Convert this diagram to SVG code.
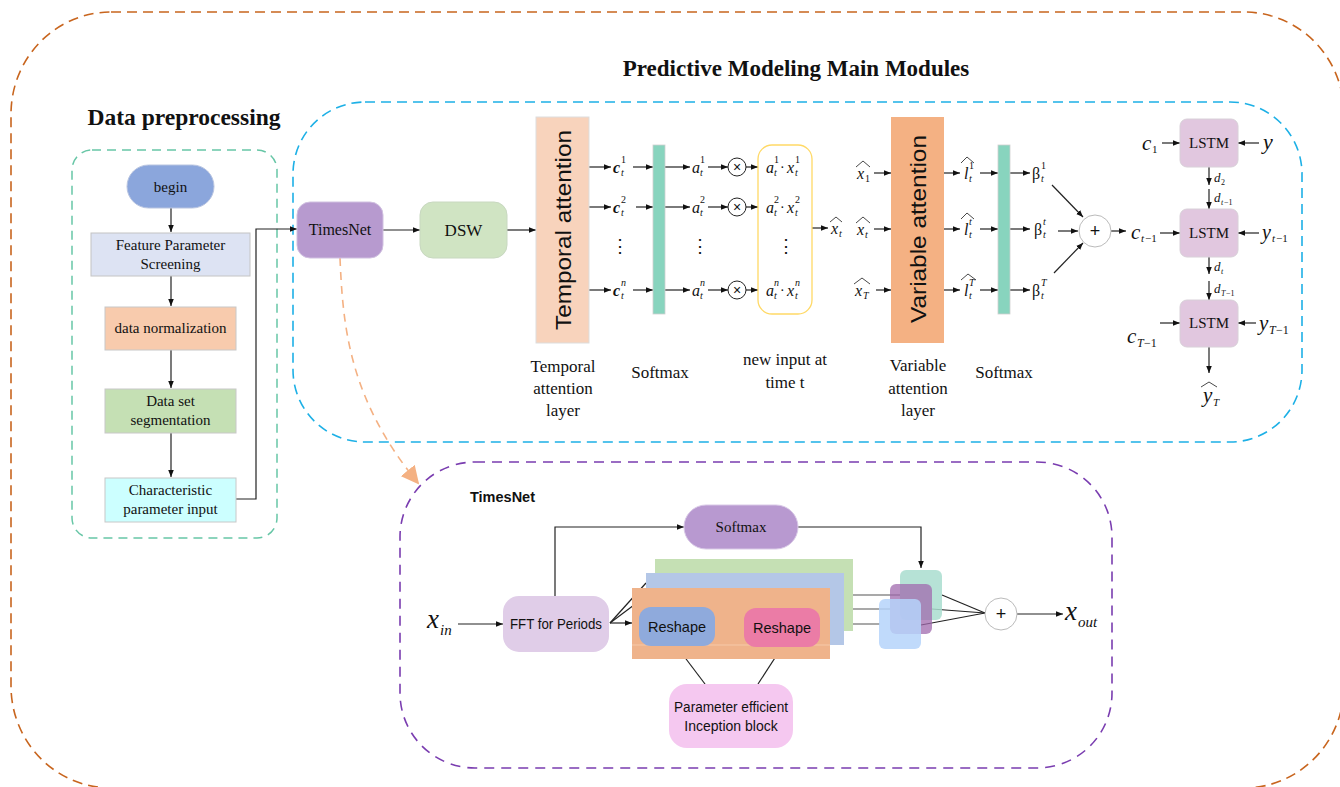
<svg xmlns="http://www.w3.org/2000/svg" width="1340" height="787" viewBox="0 0 1340 787">
<defs>
<marker id="arr" viewBox="0 0 10 10" refX="10" refY="5" markerWidth="7" markerHeight="7" markerUnits="userSpaceOnUse" orient="auto"><path d="M0,1 L10,5 L0,9 z" fill="#111"/></marker>
<marker id="parr" viewBox="0 0 10 10" refX="9" refY="5" markerWidth="18" markerHeight="18" markerUnits="userSpaceOnUse" orient="auto"><path d="M0,0 L10,5 L0,10 z" fill="#F4B183"/></marker>
<style>
.ln{stroke:#222;stroke-width:1.2;fill:none}
.ar{stroke:#222;stroke-width:1.2;fill:none;marker-end:url(#arr)}
.sf{font-family:"Liberation Serif","Times New Roman",serif;fill:#111}
.ss{font-family:"Liberation Sans",Arial,sans-serif;fill:#111}
.m{font-family:"Liberation Serif","Times New Roman",serif;font-style:italic;fill:#111}
.sm{font-family:"Liberation Serif","Times New Roman",serif;font-size:10px;fill:#111}
.hat{stroke:#333;stroke-width:0.9;fill:none}
.lbl{font-family:"Liberation Serif","Times New Roman",serif;font-size:17px;fill:#111;text-anchor:middle}
</style>
</defs>
<rect width="1340" height="787" fill="#fff"/>

<!-- frames -->
<g id="frames" fill="none">
<rect id="outer-frame" x="11" y="12" width="1333" height="776" rx="100" ry="102" stroke="#C8651E" stroke-width="1.6" stroke-dasharray="10 6"/>
<rect id="prep-frame" x="72" y="150" width="205" height="388" rx="20" stroke="#67C6A6" stroke-width="1.5" stroke-dasharray="9 6"/>
<rect id="main-frame" x="293" y="102" width="1009" height="340" rx="72" stroke="#1DB0E6" stroke-width="1.6" stroke-dasharray="10 6"/>
<rect id="timesnet-frame" x="400" y="462" width="712" height="306" rx="75" stroke="#7A3DB0" stroke-width="1.6" stroke-dasharray="10 7"/>
</g>

<g id="titles">
<text x="796" y="76" class="sf" font-size="23" font-weight="bold" text-anchor="middle">Predictive Modeling Main Modules</text>
<text x="184" y="125" class="sf" font-size="23.5" font-weight="bold" text-anchor="middle">Data preprocessing</text>
<text x="470" y="502" class="ss" font-size="14.5" font-weight="bold">TimesNet</text>
</g>

<!-- connectors -->
<g id="connectors">
<line x1="171" y1="208" x2="171" y2="232" class="ar"/>
<line x1="171" y1="276" x2="171" y2="306" class="ar"/>
<line x1="171" y1="350" x2="171" y2="388" class="ar"/>
<line x1="171" y1="433" x2="171" y2="477" class="ar"/>
<polyline points="236,499 256,499 256,229 297,229" class="ar"/>
<line x1="383" y1="230" x2="420" y2="230" class="ar"/>
<line x1="507" y1="230" x2="536" y2="230" class="ar"/>
<path d="M340,258 C343,330 350,400 418,483" stroke="#F4B183" stroke-width="1.6" fill="none" stroke-dasharray="8 6" marker-end="url(#parr)"/>

<!-- temporal rows -->
<line x1="589" y1="167" x2="611" y2="167" class="ar"/>
<line x1="589" y1="207" x2="611" y2="207" class="ar"/>
<line x1="589" y1="290" x2="611" y2="290" class="ar"/>
<line x1="633" y1="167" x2="653" y2="167" class="ar"/>
<line x1="636" y1="207" x2="653" y2="207" class="ar"/>
<line x1="633" y1="290" x2="653" y2="290" class="ar"/>
<line x1="665" y1="167" x2="690" y2="167" class="ar"/>
<line x1="665" y1="207" x2="690" y2="207" class="ar"/>
<line x1="665" y1="290" x2="690" y2="290" class="ar"/>
<line x1="708" y1="167" x2="728" y2="167" class="ar"/>
<line x1="708" y1="207" x2="728" y2="207" class="ar"/>
<line x1="708" y1="290" x2="728" y2="290" class="ar"/>
<line x1="746" y1="167" x2="758" y2="167" class="ar"/>
<line x1="746" y1="207" x2="758" y2="207" class="ar"/>
<line x1="746" y1="290" x2="758" y2="290" class="ar"/>
<line x1="812" y1="228" x2="828" y2="228" class="ar"/>

<!-- variable rows -->
<line x1="874" y1="173" x2="891" y2="173" class="ar"/>
<line x1="874" y1="229" x2="891" y2="229" class="ar"/>
<line x1="876" y1="290" x2="891" y2="290" class="ar"/>
<line x1="944" y1="173" x2="960" y2="173" class="ar"/>
<line x1="944" y1="229" x2="960" y2="229" class="ar"/>
<line x1="944" y1="290" x2="960" y2="290" class="ar"/>
<line x1="980" y1="173" x2="998" y2="173" class="ar"/>
<line x1="980" y1="229" x2="998" y2="229" class="ar"/>
<line x1="980" y1="290" x2="998" y2="290" class="ar"/>
<line x1="1010" y1="173" x2="1030" y2="173" class="ar"/>
<line x1="1010" y1="229" x2="1030" y2="229" class="ar"/>
<line x1="1010" y1="290" x2="1030" y2="290" class="ar"/>
<line x1="1052" y1="185" x2="1083" y2="217" class="ar"/>
<line x1="1058" y1="231" x2="1078" y2="231" class="ar"/>
<line x1="1054" y1="273" x2="1083" y2="243" class="ar"/>

<!-- LSTM -->
<line x1="1111" y1="231" x2="1126" y2="231" class="ar"/>
<line x1="1162" y1="143" x2="1180" y2="143" class="ar"/>
<line x1="1259" y1="143" x2="1238" y2="143" class="ar"/>
<line x1="1160" y1="233" x2="1180" y2="233" class="ar"/>
<line x1="1259" y1="233" x2="1238" y2="233" class="ar"/>
<line x1="1160" y1="323" x2="1180" y2="323" class="ar"/>
<line x1="1256" y1="323" x2="1238" y2="323" class="ar"/>
<line x1="1209" y1="167" x2="1209" y2="185" class="ar"/>
<line x1="1209" y1="189" x2="1209" y2="209" class="ar"/>
<line x1="1209" y1="257" x2="1209" y2="274" class="ar"/>
<line x1="1209" y1="281" x2="1209" y2="300" class="ar"/>
<line x1="1209" y1="347" x2="1209" y2="373" class="ar"/>

<!-- TimesNet detail -->
<line x1="458" y1="624" x2="503" y2="624" class="ar"/>
<polyline points="555,596 555,527 684,527" class="ar"/>
<polyline points="798,527 921,527 921,568" class="ar"/>
<line x1="610" y1="623" x2="646" y2="583" class="ln"/>
<line x1="610" y1="623" x2="646" y2="596" class="ln"/>
<line x1="610" y1="623" x2="632" y2="623" class="ar"/>
<line x1="853" y1="595" x2="900" y2="595" stroke="#555" stroke-width="1.2"/>
<line x1="844" y1="609" x2="890" y2="609" stroke="#555" stroke-width="1.2"/>
<line x1="830" y1="624" x2="880" y2="624" stroke="#555" stroke-width="1.2"/>
<line x1="942" y1="595" x2="985" y2="613" class="ln"/>
<line x1="932" y1="609" x2="985" y2="613" class="ln"/>
<line x1="921" y1="625" x2="985" y2="613" class="ln"/>
<line x1="1017" y1="614" x2="1063" y2="614" class="ar"/>
<line x1="677" y1="647" x2="705" y2="684" class="ln"/>
<line x1="782" y1="647" x2="758" y2="684" class="ln"/>
</g>

<!-- preprocessing nodes -->
<g id="begin"><rect x="127" y="165" width="87" height="43" rx="21.5" fill="#8BA6DC" stroke="#b8c4e0"/><text x="170.5" y="192" class="sf" font-size="15" text-anchor="middle">begin</text></g>
<g id="feature-screening"><rect x="91" y="233" width="159" height="43" fill="#DDE3F3" stroke="#c4c4c4"/><text x="170.5" y="250" class="sf" font-size="15" text-anchor="middle">Feature Parameter</text><text x="170.5" y="269" class="sf" font-size="15" text-anchor="middle">Screening</text></g>
<g id="data-normalization"><rect x="105" y="307" width="131" height="43" fill="#F8CBAD" stroke="#c8c8c8"/><text x="170.5" y="333" class="sf" font-size="15" text-anchor="middle">data normalization</text></g>
<g id="dataset-segmentation"><rect x="105" y="389" width="131" height="44" fill="#C5E0B4" stroke="#c8c8c8"/><text x="170.5" y="406" class="sf" font-size="15" text-anchor="middle">Data set</text><text x="170.5" y="425" class="sf" font-size="15" text-anchor="middle">segmentation</text></g>
<g id="characteristic-input"><rect x="105" y="478" width="131" height="44" fill="#CCFFFF" stroke="#c8c8c8"/><text x="170.5" y="495" class="sf" font-size="15" text-anchor="middle">Characteristic</text><text x="170.5" y="514" class="sf" font-size="15" text-anchor="middle">parameter input</text></g>

<!-- main nodes -->
<g id="timesnet-node"><rect x="297" y="202" width="86" height="56" rx="13" fill="#B79ACF" stroke="#d0c0e0"/><text x="340" y="235" class="sf" font-size="16" text-anchor="middle">TimesNet</text></g>
<g id="dsw"><rect x="420" y="202" width="87" height="56" rx="13" fill="#D0E4C3" stroke="#c8d8c0"/><text x="463.5" y="236" class="sf" font-size="17" text-anchor="middle">DSW</text></g>

<g id="temporal-attention"><rect x="536" y="117" width="53" height="226" fill="#F8D3BC" stroke="#dddddd"/><text transform="translate(571,230) rotate(-90)" class="ss" font-size="22" text-anchor="middle" textLength="200" lengthAdjust="spacingAndGlyphs" fill="#222">Temporal attention</text></g>
<g id="softmax-1"><rect x="653" y="145" width="12" height="169" fill="#88D4BE" stroke="#cfcfcf" stroke-width="0.8"/></g>
<g id="mult-1"><circle cx="737" cy="167" r="9" fill="#fff" stroke="#222" stroke-width="1"/><text x="737" y="172" class="ss" font-size="14" text-anchor="middle">×</text></g>
<g id="mult-2"><circle cx="737" cy="207" r="9" fill="#fff" stroke="#222" stroke-width="1"/><text x="737" y="212" class="ss" font-size="14" text-anchor="middle">×</text></g>
<g id="mult-n"><circle cx="737" cy="290" r="9" fill="#fff" stroke="#222" stroke-width="1"/><text x="737" y="295" class="ss" font-size="14" text-anchor="middle">×</text></g>
<g id="new-input"><rect x="758" y="145" width="54" height="169" rx="14" fill="none" stroke="#FFD966" stroke-width="1.3"/></g>

<g id="variable-attention"><rect x="891" y="117" width="53" height="226" fill="#F4B183"/><text transform="translate(926,229) rotate(-90)" class="ss" font-size="22" text-anchor="middle" textLength="188" lengthAdjust="spacingAndGlyphs" fill="#222">Variable attention</text></g>
<g id="softmax-2"><rect x="998" y="145" width="12" height="169" fill="#88D4BE" stroke="#cfcfcf" stroke-width="0.8"/></g>
<g id="sum-main"><circle cx="1095" cy="231" r="16" fill="#fff" stroke="#bbbbbb" stroke-width="1"/><text x="1095" y="237" class="ss" font-size="18" text-anchor="middle">+</text></g>

<g id="lstm-1"><rect x="1180" y="119" width="58" height="48" rx="7" fill="#E1C7DF" stroke="#d8d0d8"/><text x="1209" y="148" class="sf" font-size="15" text-anchor="middle">LSTM</text></g>
<g id="lstm-2"><rect x="1180" y="209" width="58" height="48" rx="7" fill="#E1C7DF" stroke="#d8d0d8"/><text x="1209" y="238" class="sf" font-size="15" text-anchor="middle">LSTM</text></g>
<g id="lstm-3"><rect x="1180" y="300" width="58" height="47" rx="7" fill="#E1C7DF" stroke="#d8d0d8"/><text x="1209" y="328" class="sf" font-size="15" text-anchor="middle">LSTM</text></g>

<!-- math labels temporal -->
<g id="temporal-labels">
<text x="613" y="173" class="m" font-size="16" font-weight="bold">c</text><text x="621" y="163" class="sm">1</text><text x="621" y="176" class="sm" font-style="italic">t</text>
<text x="613" y="213" class="m" font-size="16" font-weight="bold">c</text><text x="621" y="203" class="sm">2</text><text x="621" y="216" class="sm" font-style="italic">t</text>
<text x="613" y="296" class="m" font-size="16" font-weight="bold">c</text><text x="621" y="286" class="sm" font-style="italic">n</text><text x="621" y="299" class="sm" font-style="italic">t</text>
<text x="620" y="252" class="sf" font-size="18" text-anchor="middle">⋮</text>
<text x="692" y="173" class="m" font-size="16">a</text><text x="700" y="163" class="sm">1</text><text x="700" y="176" class="sm" font-style="italic">t</text>
<text x="692" y="213" class="m" font-size="16">a</text><text x="700" y="203" class="sm">2</text><text x="700" y="216" class="sm" font-style="italic">t</text>
<text x="692" y="296" class="m" font-size="16">a</text><text x="700" y="286" class="sm" font-style="italic">n</text><text x="700" y="299" class="sm" font-style="italic">t</text>
<text x="700" y="252" class="sf" font-size="18" text-anchor="middle">⋮</text>
<text x="766" y="173" class="m" font-size="16">a</text><text x="774" y="163" class="sm">1</text><text x="774" y="176" class="sm" font-style="italic">t</text><text x="780" y="172" class="sf" font-size="14">·</text><text x="787" y="173" class="m" font-size="16">x</text><text x="795" y="163" class="sm">1</text><text x="795" y="176" class="sm" font-style="italic">t</text>
<text x="766" y="213" class="m" font-size="16">a</text><text x="774" y="203" class="sm">2</text><text x="774" y="216" class="sm" font-style="italic">t</text><text x="780" y="212" class="sf" font-size="14">·</text><text x="787" y="213" class="m" font-size="16">x</text><text x="795" y="203" class="sm">2</text><text x="795" y="216" class="sm" font-style="italic">t</text>
<text x="766" y="296" class="m" font-size="16">a</text><text x="774" y="286" class="sm" font-style="italic">n</text><text x="774" y="299" class="sm" font-style="italic">t</text><text x="780" y="295" class="sf" font-size="14">·</text><text x="787" y="296" class="m" font-size="16">x</text><text x="795" y="286" class="sm" font-style="italic">n</text><text x="795" y="299" class="sm" font-style="italic">t</text>
<text x="786" y="252" class="sf" font-size="18" text-anchor="middle">⋮</text>
<text x="831" y="234" class="m" font-size="16">x</text><text x="839" y="237" class="sm" font-style="italic">t</text><path d="M830,222 L836,217 L842,222" class="hat"/>
</g>

<!-- math labels variable -->
<g id="variable-labels">
<text x="857" y="179" class="m" font-size="16">x</text><text x="865" y="182" class="sm">1</text><path d="M856,167 L863,161 L870,167" class="hat"/>
<text x="857" y="235" class="m" font-size="16">x</text><text x="865" y="238" class="sm" font-style="italic">t</text><path d="M856,223 L863,217 L870,223" class="hat"/>
<text x="855" y="296" class="m" font-size="16">x</text><text x="863" y="299" class="sm" font-style="italic">T</text><path d="M854,284 L862,278 L870,284" class="hat"/>
<text x="964" y="179" class="m" font-size="16">l</text><text x="969" y="169" class="sm">1</text><text x="969" y="182" class="sm" font-style="italic">t</text><path d="M961,163 L967,157 L974,163" class="hat"/>
<text x="964" y="235" class="m" font-size="16">l</text><text x="969" y="225" class="sm" font-style="italic">t</text><text x="969" y="238" class="sm" font-style="italic">t</text><path d="M961,219 L967,213 L974,219" class="hat"/>
<text x="964" y="296" class="m" font-size="16">l</text><text x="969" y="286" class="sm" font-style="italic">T</text><text x="969" y="299" class="sm" font-style="italic">t</text><path d="M961,280 L968,274 L976,280" class="hat"/>
<text x="1032" y="179" class="sf" font-size="16">β</text><text x="1041" y="169" class="sm">1</text><text x="1041" y="182" class="sm" font-style="italic">t</text>
<text x="1034" y="235" class="sf" font-size="16">β</text><text x="1043" y="225" class="sm" font-style="italic">t</text><text x="1043" y="238" class="sm" font-style="italic">t</text>
<text x="1032" y="296" class="sf" font-size="16">β</text><text x="1041" y="286" class="sm" font-style="italic">T</text><text x="1041" y="299" class="sm" font-style="italic">t</text>
</g>

<!-- LSTM labels -->
<g id="lstm-labels">
<text x="1142" y="150" class="m" font-size="21">c</text><text x="1152" y="153" class="sf" font-size="11">1</text>
<text x="1263" y="149" class="m" font-size="22">y</text>
<text x="1131" y="239" class="m" font-size="21">c</text><text x="1141" y="242" class="m" font-size="11">t</text><text x="1145" y="242" class="sf" font-size="11">−1</text>
<text x="1262" y="239" class="m" font-size="20">y</text><text x="1272" y="242" class="m" font-size="11">t</text><text x="1276" y="242" class="sf" font-size="11">−1</text>
<text x="1127" y="343" class="m" font-size="21">c</text><text x="1137" y="347" class="m" font-size="12">T</text><text x="1144" y="347" class="sf" font-size="12">−1</text>
<text x="1259" y="330" class="m" font-size="21">y</text><text x="1269" y="334" class="m" font-size="12">T</text><text x="1276" y="334" class="sf" font-size="12">−1</text>
<text x="1214" y="182" class="m" font-size="13">d</text><text x="1221" y="185" class="sf" font-size="8">2</text>
<text x="1214" y="202" class="m" font-size="13">d</text><text x="1221" y="205" class="m" font-size="8">t</text><text x="1224" y="205" class="sf" font-size="8">−1</text>
<text x="1214" y="271" class="m" font-size="13">d</text><text x="1221" y="274" class="m" font-size="8">t</text>
<text x="1214" y="293" class="m" font-size="13">d</text><text x="1221" y="296" class="m" font-size="8">T</text><text x="1226" y="296" class="sf" font-size="8">−1</text>
<text x="1203" y="402" class="m" font-size="21">y</text><text x="1213" y="406" class="m" font-size="11">T</text><path d="M1201,387 L1209,382 L1217,387" class="hat"/>
</g>

<!-- layer captions -->
<g id="captions">
<text x="563" y="372" class="lbl">Temporal</text><text x="563" y="394" class="lbl">attention</text><text x="563" y="416" class="lbl">layer</text>
<text x="660" y="378" class="lbl">Softmax</text>
<text x="785" y="365" class="lbl">new input at</text><text x="785" y="388" class="lbl">time t</text>
<text x="918" y="371" class="lbl">Variable</text><text x="918" y="394" class="lbl">attention</text><text x="918" y="416" class="lbl">layer</text>
<text x="1004" y="378" class="lbl">Softmax</text>
</g>

<!-- TimesNet detail nodes -->
<g id="x-in"><text x="427" y="628" class="m" font-size="27">x</text><text x="440" y="635" class="m" font-size="15">in</text></g>
<g id="fft"><rect x="503" y="596" width="106" height="56" rx="16" fill="#E0CDE8"/><text x="556" y="629" class="ss" font-size="14.5" text-anchor="middle" textLength="92" lengthAdjust="spacingAndGlyphs">FFT for Periods</text></g>
<g id="softmax-tn"><rect x="684" y="505" width="114" height="44" rx="22" fill="#B899D0" stroke="#d8c8e6"/><text x="741" y="532" class="sf" font-size="15" text-anchor="middle">Softmax</text></g>
<g id="period-stacks">
<rect x="655" y="559" width="198" height="72" fill="#C5E0B4"/>
<rect x="646" y="573" width="198" height="72" fill="#B4C7E7"/>
<rect x="632" y="588" width="198" height="71" fill="#EFB38B"/>
<line x1="632" y1="645" x2="830" y2="645" stroke="#F6C9A9" stroke-width="1"/>
</g>
<g id="reshape-1"><rect x="639" y="607" width="76" height="39" rx="12" fill="#8FAADC"/><text x="677" y="632" class="ss" font-size="14.5" text-anchor="middle">Reshape</text></g>
<g id="reshape-2"><rect x="744" y="608" width="76" height="39" rx="12" fill="#EB7CA6"/><text x="782" y="633" class="ss" font-size="14.5" text-anchor="middle">Reshape</text></g>
<g id="inception"><rect x="669" y="684" width="124" height="64" rx="18" fill="#F5C8F0"/><text x="731" y="712" class="ss" font-size="14" text-anchor="middle" textLength="114" lengthAdjust="spacingAndGlyphs">Parameter efficient</text><text x="731" y="731" class="ss" font-size="14" text-anchor="middle">Inception block</text></g>
<g id="agg-squares">
<rect x="900" y="570" width="42" height="50" rx="6" fill="#A9DDCF" fill-opacity="0.85"/>
<rect x="890" y="584" width="42" height="50" rx="6" fill="#A06AAE" fill-opacity="0.75"/>
<rect x="879" y="599" width="42" height="50" rx="6" fill="#B5D4FA" fill-opacity="0.85"/>
</g>
<g id="sum-tn"><circle cx="1001" cy="614" r="16" fill="#fff" stroke="#bbbbbb" stroke-width="1"/><text x="1001" y="620" class="ss" font-size="18" text-anchor="middle">+</text></g>
<g id="x-out"><text x="1065" y="620" class="m" font-size="27">x</text><text x="1078" y="627" class="m" font-size="15">out</text></g>
</svg>
